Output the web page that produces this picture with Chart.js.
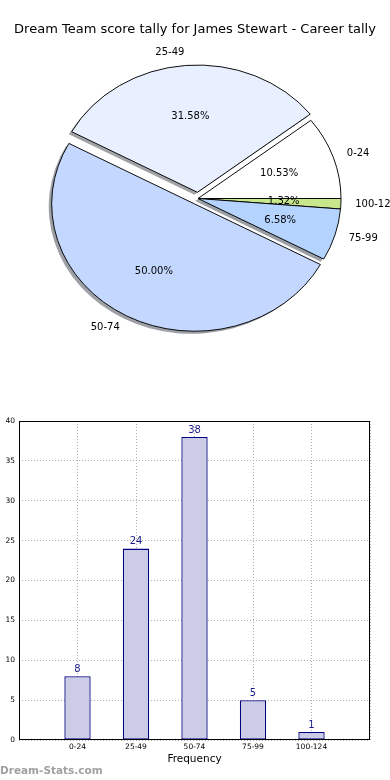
<!DOCTYPE html>
<html>
<head>
<meta charset="utf-8">
<script src="https://cdn.jsdelivr.net/npm/chart.js@4.4.0/dist/chart.umd.min.js"></script>
<style>
  body { margin: 0; background: #fff; }
  #wrap { position: relative; width: 390px; height: 780px; }
  #pie { position: absolute; left: 0; top: 0; }
  #bar { position: absolute; left: 0; top: 400px; }
</style>
</head>
<body>
<div id="wrap">
  <canvas id="pie" width="390" height="400"></canvas>
  <canvas id="bar" width="390" height="380"></canvas>
</div>
<script>
const titleText = "Dream Team score tally for James Stewart - Career tally";
const categories = ["0-24", "25-49", "50-74", "75-99", "100-124"];
const counts = [8, 24, 38, 5, 1];
const sliceColors = ["#ffffff", "#e8f0ff", "#c4d8ff", "#b4d4ff", "#c8e68c"];
const explode = [0, 7, 7, 0, 0];
const yTicks = [0, 5, 10, 15, 20, 25, 30, 35, 40];
const xLabel = "Frequency";
const watermark = "Dream-Stats.com";

const FONT = "'DejaVu Sans', sans-serif";
const total = counts.reduce((a, b) => a + b, 0);
// matplotlib goes counter clockwise from 3 o'clock, chart.js clockwise -> reverse
const order = categories.map((c, i) => i).reverse();
const rX = 143;
const squash = 0.89; // the pie in the picture is a bit flat

function shade(hex) {
  const n = parseInt(hex.slice(1), 16);
  const r = (n >> 16) & 255, g = (n >> 8) & 255, b = n & 255;
  return `rgba(${Math.round(r * 0.3)},${Math.round(g * 0.3)},${Math.round(b * 0.3)},0.5)`;
}

function sliceGeom(arc, i) {
  const mid = (arc.startAngle + arc.endAngle) / 2;
  const e = explode[order[i]];
  return { mid, ex: Math.cos(mid) * e, ey: Math.sin(mid) * e };
}

const mplPie = {
  id: "mplPie",
  beforeDatasetsDraw(chart) {
    const ctx = chart.ctx;
    const arcs = chart.getDatasetMeta(0).data;
    // shadows first so they stay under every slice
    arcs.forEach((arc, i) => {
      const g = sliceGeom(arc, i);
      ctx.save();
      ctx.translate(arc.x, arc.y);
      ctx.scale(1, squash);
      ctx.translate(g.ex - 2.9, g.ey + 2.9);
      ctx.beginPath();
      ctx.moveTo(0, 0);
      ctx.arc(0, 0, arc.outerRadius, arc.startAngle, arc.endAngle);
      ctx.closePath();
      ctx.fillStyle = shade(sliceColors[order[i]]);
      ctx.fill();
      ctx.restore();
    });
    arcs.forEach((arc, i) => {
      const g = sliceGeom(arc, i);
      ctx.save();
      ctx.translate(arc.x, arc.y);
      ctx.scale(1, squash);
      ctx.translate(g.ex - arc.x, g.ey - arc.y);
      arc.draw(ctx);
      ctx.restore();
    });
    return false;
  },
  afterDraw(chart) {
    const ctx = chart.ctx;
    const arcs = chart.getDatasetMeta(0).data;
    ctx.save();
    ctx.fillStyle = "#000";
    ctx.textBaseline = "middle";
    // title (drawn here so it is centred on the whole figure, not the pie)
    ctx.font = "13px " + FONT;
    ctx.textAlign = "center";
    ctx.fillText(titleText, chart.width / 2, 30);

    ctx.font = "10px " + FONT;
    arcs.forEach((arc, i) => {
      const k = order[i];
      const g = sliceGeom(arc, i);
      const c = Math.cos(g.mid), s = Math.sin(g.mid);
      const px = arc.x + g.ex + c * rX * 0.6;
      const py = arc.y + (g.ey + s * rX * 0.6) * squash;
      ctx.textAlign = "center";
      ctx.fillText((counts[k] / total * 100).toFixed(2) + "%", px, py);
      const lx = arc.x + g.ex + c * rX * 1.1;
      const ly = arc.y + (g.ey + s * rX * 1.1) * squash;
      ctx.textAlign = lx > arc.x ? "left" : "right";
      ctx.fillText(categories[k], lx, ly);
    });
    ctx.restore();
  }
};

new Chart(document.getElementById("pie"), {
  type: "pie",
  data: {
    labels: order.map(k => categories[k]),
    datasets: [{
      data: order.map(k => counts[k]),
      backgroundColor: order.map(k => sliceColors[k]),
      borderColor: "#000",
      borderWidth: 1,
    }]
  },
  options: {
    responsive: false,
    animation: false,
    radius: rX,
    rotation: 90,
    layout: { padding: { left: 6, right: 0, top: 38, bottom: 41 } },
    plugins: {
      legend: { display: false },
      tooltip: { enabled: false },
      title: { display: false }
    }
  },
  plugins: [mplPie]
});

// bar chart: box, value labels, watermark
const barExtras = {
  id: "barExtras",
  afterDraw(chart) {
    const ctx = chart.ctx;
    const a = chart.chartArea;
    ctx.save();
    ctx.strokeStyle = "#000";
    ctx.lineWidth = 1;
    ctx.strokeRect(Math.round(a.left) + 0.5, Math.round(a.top) + 0.5,
      Math.round(a.right - a.left) - 1, Math.round(a.bottom - a.top) - 1);

    ctx.font = "10px " + FONT;
    ctx.fillStyle = "#1c1c8c";
    ctx.textAlign = "center";
    ctx.textBaseline = "bottom";
    chart.getDatasetMeta(0).data.forEach((bar, i) => {
      ctx.fillText(String(counts[i]), bar.x, bar.y - 2);
    });

    ctx.font = "bold 10.5px " + FONT;
    ctx.fillStyle = "#a0a0a0";
    ctx.textAlign = "left";
    ctx.textBaseline = "middle";
    ctx.fillText(watermark, 0, chart.height - 9);
    ctx.restore();
  }
};

new Chart(document.getElementById("bar"), {
  type: "bar",
  data: {
    datasets: [{
      data: counts.map((v, i) => ({ x: i, y: v })),
      backgroundColor: "#cccce6",
      borderColor: "#000080",
      borderWidth: 1.3,
      borderSkipped: false,
      barPercentage: 0.45,
      categoryPercentage: 1
    }]
  },
  options: {
    responsive: false,
    animation: false,
    layout: { padding: { top: 21, right: 20, left: 0, bottom: 0 } },
    plugins: { legend: { display: false }, tooltip: { enabled: false } },
    scales: {
      x: {
        type: "linear",
        min: -1,
        max: categories.length,
        offset: false,
        z: 1,
        afterFit: s => { s.height = 40; },
        ticks: {
          stepSize: 1,
          autoSkip: false,
          maxRotation: 0,
          padding: 3,
          color: "#000",
          font: { family: FONT, size: 7.5 },
          callback: v => categories[v] || ""
        },
        grid: { color: "#b0b0b0", drawTicks: false, offset: false },
        border: { display: false, dash: [1, 2] },
        title: {
          display: true,
          text: xLabel,
          color: "#000",
          font: { family: FONT, size: 10.5 },
          padding: { top: 0, bottom: 14 }
        }
      },
      y: {
        min: yTicks[0],
        max: yTicks[yTicks.length - 1],
        z: 1,
        afterFit: s => { s.width = 19; },
        ticks: {
          stepSize: yTicks[1] - yTicks[0],
          padding: 4,
          color: "#000",
          font: { family: FONT, size: 7.5 }
        },
        grid: { color: "#b0b0b0", drawTicks: false },
        border: { display: false, dash: [1, 2] }
      }
    }
  },
  plugins: [barExtras]
});
</script>
</body>
</html>
